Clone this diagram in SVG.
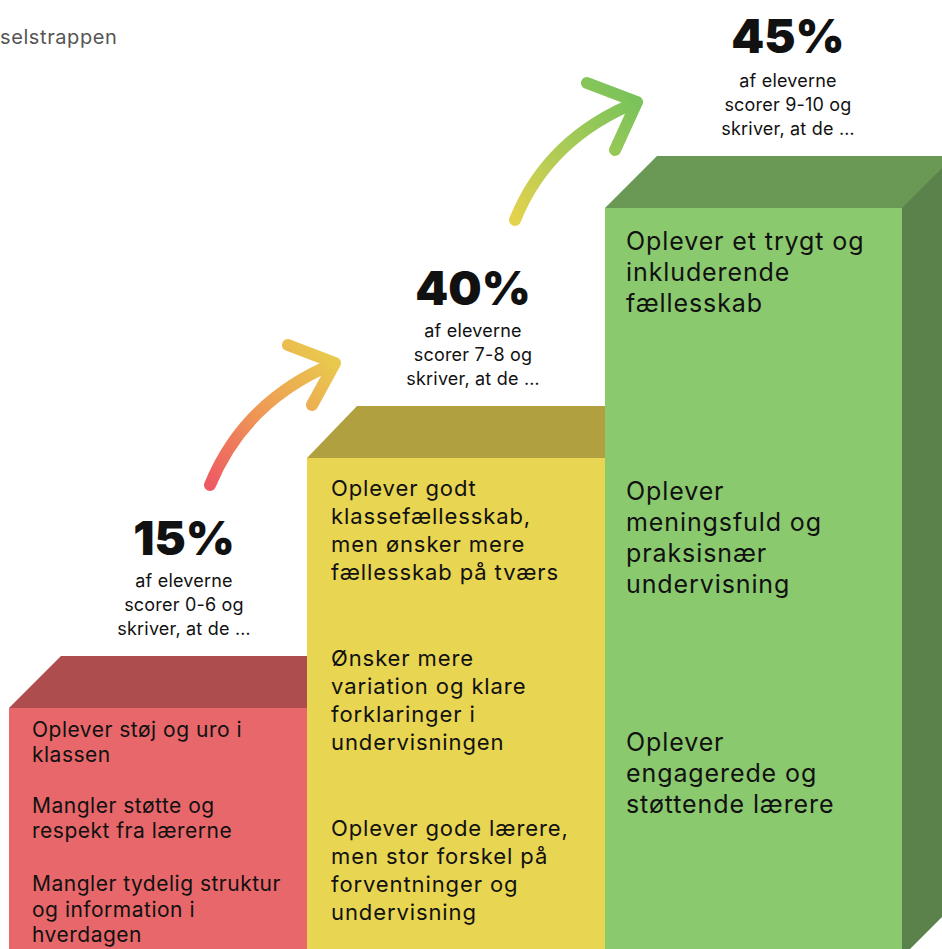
<svg xmlns="http://www.w3.org/2000/svg" width="942" height="949" viewBox="0 0 942 949">
<defs>
<style>
text{font-family:Inter,"Noto Sans",sans-serif;fill:#111}
.title{font-size:20px;fill:#555;letter-spacing:0.6px}
.pct{font-size:47px;font-weight:900;text-anchor:middle}
.sub{font-size:18px;text-anchor:middle;letter-spacing:0.2px}
.r{font-size:21px;letter-spacing:0.5px}
.y{font-size:22px;letter-spacing:0.9px}
.g{font-size:25px;letter-spacing:0.9px}
.arrow{fill:none;stroke-width:12;stroke-linecap:round;stroke-linejoin:round}
</style>
<linearGradient id="ga1" gradientUnits="userSpaceOnUse" x1="210" y1="485" x2="335" y2="363">
<stop offset="0" stop-color="#EE5A64"/>
<stop offset="0.5" stop-color="#EE9A55"/>
<stop offset="1" stop-color="#E9C94D"/>
</linearGradient>
<linearGradient id="ga2" gradientUnits="userSpaceOnUse" x1="515" y1="220" x2="637" y2="102">
<stop offset="0" stop-color="#E4D24C"/>
<stop offset="0.5" stop-color="#AACB57"/>
<stop offset="1" stop-color="#79C35A"/>
</linearGradient>
</defs>
<rect width="942" height="949" fill="#fff"/>
<text class="title" x="0" y="44">selstrappen</text>

<g id="step-red">
<polygon points="9,708 61,656 310,656 310,708" fill="#AE4D4E"/>
<rect x="9" y="708" width="299" height="250" fill="#E8676A"/>
<text class="r" x="32" y="737">Oplever støj og uro i</text>
<text class="r" x="32" y="762">klassen</text>
<text class="r" x="32" y="813">Mangler støtte og</text>
<text class="r" x="32" y="838">respekt fra lærerne</text>
<text class="r" x="32" y="891">Mangler tydelig struktur</text>
<text class="r" x="32" y="917">og information i</text>
<text class="r" x="32" y="942">hverdagen</text>
</g>

<g id="step-yellow">
<polygon points="307,458 357,406 607,406 607,458" fill="#B0A03F"/>
<rect x="307" y="458" width="298" height="500" fill="#E8D552"/>
<text class="y" x="331" y="496">Oplever godt</text>
<text class="y" x="331" y="524">klassefællesskab,</text>
<text class="y" x="331" y="552">men ønsker mere</text>
<text class="y" x="331" y="580">fællesskab på tværs</text>
<text class="y" x="331" y="666">Ønsker mere</text>
<text class="y" x="331" y="694">variation og klare</text>
<text class="y" x="331" y="722">forklaringer i</text>
<text class="y" x="331" y="750">undervisningen</text>
<text class="y" x="331" y="836">Oplever gode lærere,</text>
<text class="y" x="331" y="864">men stor forskel på</text>
<text class="y" x="331" y="892">forventninger og</text>
<text class="y" x="331" y="920">undervisning</text>
</g>

<g id="step-green">
<polygon points="605,208 657,156 960,156 903,208" fill="#6A9955"/>
<polygon points="902,208 954,156 954,905 902,957" fill="#5A824A"/>
<rect x="605" y="208" width="297" height="750" fill="#8BC96E"/>
<text class="g" x="626" y="250">Oplever et trygt og</text>
<text class="g" x="626" y="281">inkluderende</text>
<text class="g" x="626" y="312">fællesskab</text>
<text class="g" x="626" y="500">Oplever</text>
<text class="g" x="626" y="531">meningsfuld og</text>
<text class="g" x="626" y="562">praksisnær</text>
<text class="g" x="626" y="593">undervisning</text>
<text class="g" x="626" y="751">Oplever</text>
<text class="g" x="626" y="782">engagerede og</text>
<text class="g" x="626" y="813">støttende lærere</text>
</g>

<g id="label-15">
<text class="pct" x="184" y="555">15%</text>
<text class="sub" x="184" y="587">af eleverne</text>
<text class="sub" x="184" y="611">scorer 0-6 og</text>
<text class="sub" x="184" y="635">skriver, at de …</text>
</g>
<g id="label-40">
<text class="pct" x="473" y="305">40%</text>
<text class="sub" x="473" y="337">af eleverne</text>
<text class="sub" x="473" y="361">scorer 7-8 og</text>
<text class="sub" x="473" y="385">skriver, at de …</text>
</g>
<g id="label-45">
<text class="pct" x="788" y="53">45%</text>
<text class="sub" x="788" y="87">af eleverne</text>
<text class="sub" x="788" y="111">scorer 9-10 og</text>
<text class="sub" x="788" y="135">skriver, at de …</text>
</g>

<g id="connectors">
<path class="arrow" stroke="url(#ga1)" d="M210,485 Q245,400 335,363 M288,345 L335,363 L312,405"/>
<path class="arrow" stroke="url(#ga2)" d="M515,220 Q548,138 637,102 M587,83 L637,102 L615,150"/>
</g>
</svg>
